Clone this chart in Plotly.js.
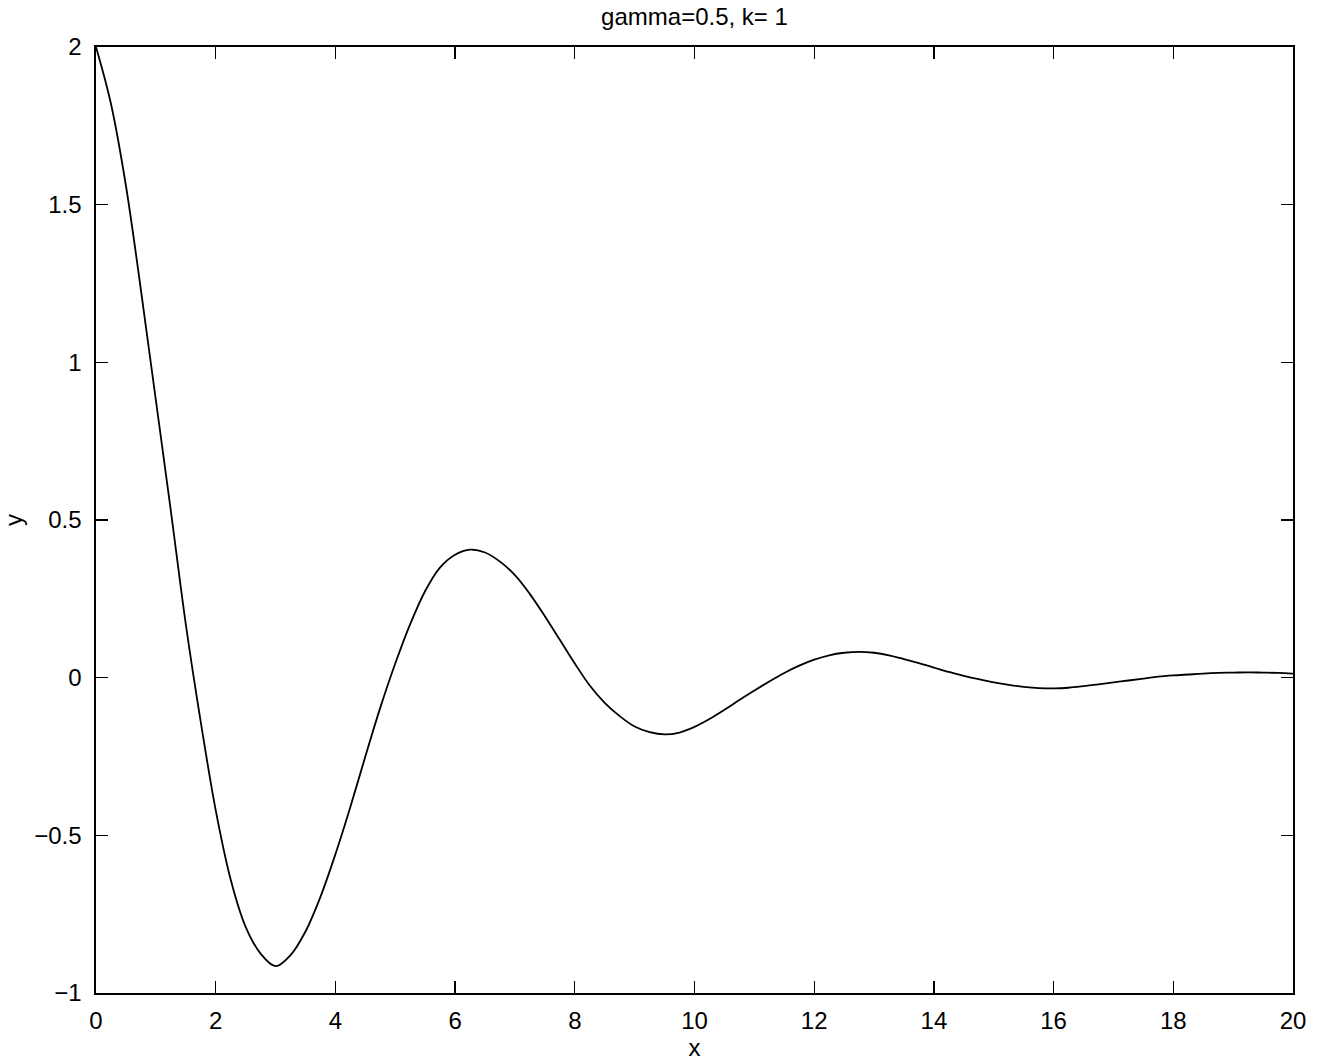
<!DOCTYPE html>
<html>
<head>
<meta charset="utf-8">
<script src="https://cdn.plot.ly/plotly-3.0.1.min.js"></script>
<style>
  html, body { margin: 0; padding: 0; background: #ffffff; }
  #chart { width: 1318px; height: 1063px; }
</style>
</head>
<body>
<div id="chart"></div>
<script>
// Values
const xValues = [
  0, 0.25, 0.5, 0.75, 1, 1.25, 1.5, 1.75, 2, 2.25, 2.5, 2.75, 3, 3.25, 3.5, 3.75,
  4, 4.25, 4.5, 4.75, 5, 5.25, 5.5, 5.75, 6, 6.25, 6.5, 6.75, 7, 7.25, 7.5, 7.75,
  8, 8.25, 8.5, 8.75, 9, 9.25, 9.5, 9.75, 10, 10.25, 10.5, 10.75, 11, 11.25, 11.5, 11.75,
  12, 12.25, 12.5, 12.75, 13, 13.25, 13.5, 13.75, 14, 14.25, 14.5, 14.75, 15, 15.25, 15.5, 15.75,
  16, 16.25, 16.5, 16.75, 17, 17.25, 17.5, 17.75, 18, 18.25, 18.5, 18.75, 19, 19.25, 19.5, 19.75, 20
];
const yValues = [
  2.00, 1.82, 1.56, 1.23, 0.88, 0.53, 0.17, -0.14, -0.42, -0.64, -0.79, -0.875, -0.915, -0.88, -0.805, -0.695,
  -0.56, -0.41, -0.25, -0.095, 0.045, 0.17, 0.275, 0.35, 0.39, 0.406, 0.397, 0.368, 0.325, 0.265, 0.195, 0.12,
  0.045, -0.025, -0.08, -0.122, -0.155, -0.173, -0.180, -0.174, -0.156, -0.131, -0.102, -0.071, -0.041, -0.012, 0.015, 0.038,
  0.057, 0.071, 0.079, 0.082, 0.079, 0.071, 0.059, 0.046, 0.032, 0.018, 0.006, -0.005, -0.015, -0.023, -0.029, -0.033,
  -0.034, -0.032, -0.027, -0.021, -0.015, -0.009, -0.003, 0.003, 0.007, 0.010, 0.013, 0.015, 0.016, 0.017, 0.016, 0.015, 0.013
];
const xTicks = [0, 2, 4, 6, 8, 10, 12, 14, 16, 18, 20];
const yTicks = [-1, -0.5, 0, 0.5, 1, 1.5, 2];
const yTickLabels = ['\u22121', '\u22120.5', '0', '0.5', '1', '1.5', '2'];
const titleText = 'gamma=0.5, k= 1';
const xLabel = 'x';
const yLabel = 'y';

const FONT = 'Liberation Sans, Arial, Helvetica, sans-serif';

const trace = {
  x: xValues,
  y: yValues,
  type: 'scatter',
  mode: 'lines',
  line: { color: '#000000', width: 1.8, shape: 'spline', smoothing: 1 },
  hoverinfo: 'skip'
};

const axisCommon = {
  showgrid: false,
  zeroline: false,
  showline: true,
  linecolor: '#000000',
  linewidth: 1.6,
  mirror: 'ticks',
  ticks: 'inside',
  ticklen: 12,
  tickwidth: 1.4,
  tickcolor: '#000000',
  tickfont: { family: FONT, size: 24, color: '#000000' }
};

const layout = {
  width: 1318,
  height: 1063,
  margin: { l: 96, r: 25, t: 47, b: 70 },
  paper_bgcolor: '#ffffff',
  plot_bgcolor: '#ffffff',
  showlegend: false,
  title: {
    text: titleText,
    font: { family: FONT, size: 24, color: '#000000' },
    x: 0.5, xref: 'paper',
    y: 1 - 17 / 1063, yref: 'container', yanchor: 'middle'
  },
  xaxis: Object.assign({}, axisCommon, {
    range: [0, 20],
    tickmode: 'array',
    tickvals: xTicks,
    ticktext: xTicks.map(String),
    ticklabelstandoff: 6,
    title: { text: xLabel, font: { family: FONT, size: 24, color: '#000000' }, standoff: 4 }
  }),
  yaxis: Object.assign({}, axisCommon, {
    range: [-1, 2],
    tickmode: 'array',
    tickvals: yTicks,
    ticktext: yTickLabels,
    ticklabelstandoff: 8,
    title: { text: yLabel, font: { family: FONT, size: 24, color: '#000000' }, standoff: 12 }
  })
};

Plotly.newPlot('chart', [trace], layout, { staticPlot: true, displayModeBar: false });
</script>
</body>
</html>
